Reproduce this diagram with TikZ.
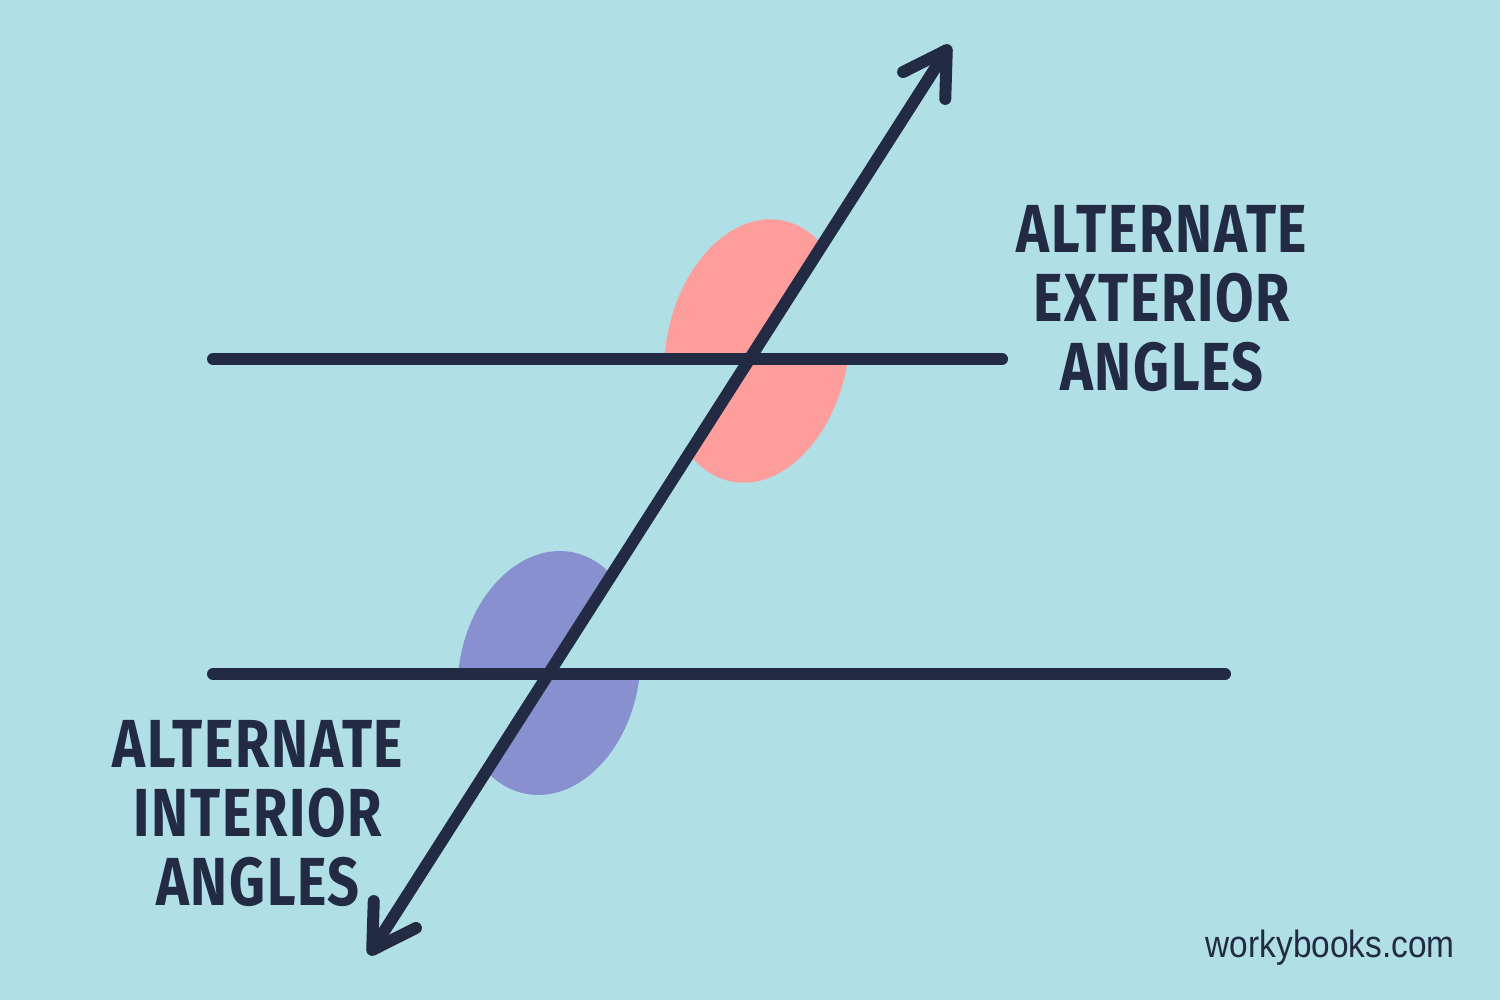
\documentclass[tikz,border=0pt]{standalone}
\usepackage{fontspec}
\setmainfont{Liberation Sans}
\newfontfamily\labelfont[FakeStretch=0.82,LetterSpace=2.5]{Fira Sans}
\newfontfamily\sitefont[FakeStretch=0.88]{Liberation Sans}
\usetikzlibrary{arrows.meta,calc}
\definecolor{bgc}{HTML}{B0DFE6}
\definecolor{pinkc}{HTML}{FE9E9C}
\definecolor{purplec}{HTML}{8890CF}
\definecolor{navy}{HTML}{222B43}
\tikzset{
  rule/.style={draw=navy, line width=12pt, line cap=round},
  barbtip/.tip={Straight Barb[length=42pt,width=50pt,round]},
  biglabel/.style={text=navy, font=\labelfont\bfseries\fontsize{68}{69}\selectfont, align=center, anchor=north, inner sep=0pt},
  sitelabel/.style={text=navy, font=\sitefont\fontsize{38}{40}\selectfont, anchor=base east, inner sep=0pt}
}
\begin{document}
\begin{tikzpicture}[x=1pt,y=-1pt]
\fill[bgc] (0,0) rectangle (1500,1000);
\useasboundingbox (0,0) rectangle (1500,1000);
% key points
\coordinate (P1) at (750,359);
\coordinate (P2) at (549,674);
\coordinate (top) at (950,45);
\coordinate (bot) at (369,955);
\coordinate (L1a) at (213,359);
\coordinate (L1b) at (1002,359);
\coordinate (L2a) at (213,674);
\coordinate (L2b) at (1225,674);
% pink angles
\begin{scope}
  \clip (P1) -- ++(-250,0) |- ($(P1)!0.9!(top)$) -- cycle;
  \fill[pinkc, rotate around={-11:(757,351)}] (757,351) ellipse [x radius=91, y radius=133];
\end{scope}
\begin{scope}
  \clip (P1) -- ++(250,0) |- ($(P1)!0.9!(P2)$) -- cycle;
  \fill[pinkc, rotate around={-11:(757,351)}] (757,351) ellipse [x radius=91, y radius=133];
\end{scope}
% purple angles
\begin{scope}
  \clip (P2) -- ++(-250,0) |- ($(P2)!0.9!(P1)$) -- cycle;
  \fill[purplec, rotate around={-11:(549,673)}] (549,673) ellipse [x radius=90, y radius=123];
\end{scope}
\begin{scope}
  \clip (P2) -- ++(250,0) |- ($(P2)!0.9!(bot)$) -- cycle;
  \fill[purplec, rotate around={-11:(549,673)}] (549,673) ellipse [x radius=90, y radius=123];
\end{scope}
% lines
\draw[rule] (L1a) -- (L1b);
\draw[rule] (L2a) -- (L2b);
\draw[rule, barbtip-barbtip] (bot) -- (top);
% labels
\node[biglabel] (ext) at (1162,205) {ALTERNATE\\EXTERIOR\\ANGLES};
\node[biglabel] (int) at (258,720) {ALTERNATE\\INTERIOR\\ANGLES};
\node[sitelabel] (site) at (1455,957) {workybooks.com};
\end{tikzpicture}
\end{document}
